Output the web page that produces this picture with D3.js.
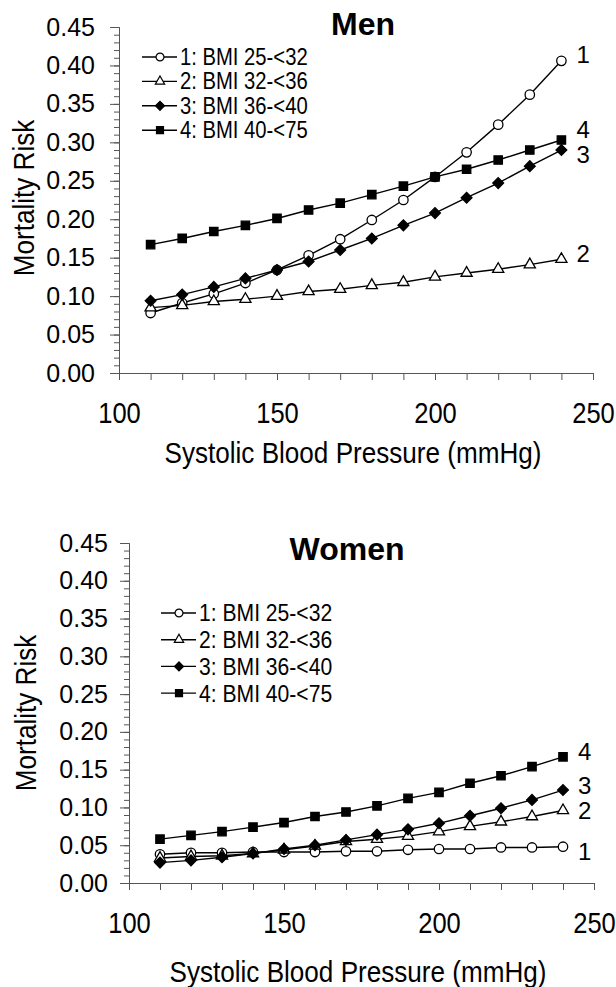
<!DOCTYPE html>
<html>
<head>
<meta charset="utf-8">
<script src="https://cdn.jsdelivr.net/npm/d3@7"></script>
<style>
  body { margin: 0; background: #fff; }
  svg text { font-family: "Liberation Sans", Arial, Helvetica, sans-serif; fill: #000; }
</style>
</head>
<body>
<div id="chart"></div>
<script>
// systolic blood pressure (x values)
let sbp = [110, 120, 130, 140, 150, 160, 170, 180, 190, 200, 210, 220, 230, 240];
let groupNames = ["1: BMI 25-<32", "2: BMI 32-<36", "3: BMI 36-<40", "4: BMI 40-<75"];
let groupLabels = ["1", "2", "3", "4"];

// men
let menBmi25 = [0.078, 0.091, 0.103, 0.117, 0.134, 0.153, 0.174, 0.199, 0.225, 0.255, 0.287, 0.323, 0.362, 0.406];
let menBmi32 = [0.085, 0.088, 0.093, 0.096, 0.100, 0.106, 0.109, 0.114, 0.118, 0.125, 0.130, 0.135, 0.141, 0.148];
let menBmi36 = [0.094, 0.102, 0.112, 0.123, 0.134, 0.145, 0.160, 0.175, 0.192, 0.208, 0.228, 0.247, 0.269, 0.290];
let menBmi40 = [0.167, 0.175, 0.184, 0.192, 0.201, 0.212, 0.221, 0.232, 0.243, 0.255, 0.265, 0.277, 0.290, 0.303];

// women
let womenBmi25 = [0.038, 0.040, 0.040, 0.041, 0.041, 0.041, 0.042, 0.042, 0.044, 0.045, 0.045, 0.047, 0.047, 0.048];
let womenBmi32 = [0.033, 0.035, 0.036, 0.039, 0.044, 0.049, 0.055, 0.058, 0.062, 0.068, 0.075, 0.081, 0.088, 0.096];
let womenBmi36 = [0.027, 0.030, 0.034, 0.039, 0.045, 0.050, 0.057, 0.064, 0.071, 0.079, 0.089, 0.099, 0.110, 0.123];
let womenBmi40 = [0.058, 0.063, 0.068, 0.074, 0.080, 0.088, 0.094, 0.102, 0.112, 0.120, 0.132, 0.142, 0.154, 0.167];

let riskTicks = [0, 0.05, 0.10, 0.15, 0.20, 0.25, 0.30, 0.35, 0.40, 0.45];
let sbpTicks = [100, 150, 200, 250];

let width = 616;
let height = 987;

let svg = d3.select("#chart").append("svg")
  .attr("width", width)
  .attr("height", height);

// marker shapes, one per group
let markers = [
  { type: d3.symbolCircle, size: 70, fill: "#fff", rot: 0 },
  { type: d3.symbolTriangle, size: 54, fill: "#fff", rot: 0 },
  { type: d3.symbolSquare, size: 58, fill: "#000", rot: 45 },
  { type: d3.symbolSquare, size: 70, fill: "#000", rot: 0 }
];

function drawPanel(p) {
  let x = d3.scaleLinear().domain([100, 250]).range([p.left, p.right]);
  let y = d3.scaleLinear().domain([0, 0.45]).range([p.bottom, p.top]);
  let g = svg.append("g");

  // y axis: minor ticks, then major ticks with labels
  g.append("g")
    .attr("transform", "translate(" + p.left + ",0)")
    .call(d3.axisLeft(y).tickValues(d3.range(0, 0.4501, 0.01)).tickSize(5).tickFormat(""))
    .call(a => a.selectAll("line, path").attr("stroke", "#555"));

  g.append("g")
    .attr("transform", "translate(" + p.left + ",0)")
    .call(d3.axisLeft(y).tickValues(riskTicks).tickSize(9).tickSizeOuter(0).tickPadding(p.yPad).tickFormat(d3.format(".2f")))
    .call(a => a.selectAll("line, path").attr("stroke", "#555"))
    .call(a => a.selectAll("text").style("font-size", "25px").attr("fill", "#000"));

  // x axis
  g.append("g")
    .attr("transform", "translate(0," + p.bottom + ")")
    .call(d3.axisBottom(x).tickValues(d3.range(100, 251, 10)).tickSize(7).tickSizeOuter(0).tickFormat(""))
    .call(a => a.selectAll("line, path").attr("stroke", "#555"));

  g.append("g")
    .attr("transform", "translate(0," + p.bottom + ")")
    .call(d3.axisBottom(x).tickValues(sbpTicks).tickSize(0).tickPadding(29).tickFormat(d3.format("d")))
    .call(a => a.select(".domain").remove())
    .call(a => a.selectAll("text").style("font-size", "29px").attr("fill", "#000")
      .attr("transform", "scale(0.88,1)"));

  // axis titles
  g.append("text")
    .attr("transform", "translate(" + p.xTitleX + "," + p.xTitleY + ") scale(0.9,1)")
    .attr("text-anchor", "middle")
    .attr("dy", "0.35em")
    .style("font-size", "29px")
    .text("Systolic Blood Pressure (mmHg)");

  g.append("text")
    .attr("transform", "translate(" + p.yTitleX + "," + p.yTitleY + ") rotate(-90) scale(0.9,1)")
    .attr("text-anchor", "middle")
    .attr("dy", "0.35em")
    .style("font-size", "29px")
    .text("Mortality Risk");

  // title
  g.append("text")
    .attr("x", p.titleX)
    .attr("y", p.titleY)
    .attr("text-anchor", "middle")
    .attr("dy", "0.35em")
    .style("font-size", "32px")
    .style("font-weight", "bold")
    .text(p.title);

  let line = d3.line()
    .x((d, i) => x(sbp[i]))
    .y(d => y(d));

  p.series.forEach(function(values, k) {
    g.append("path")
      .datum(values)
      .attr("d", line)
      .attr("fill", "none")
      .attr("stroke", "#000")
      .attr("stroke-width", 1.4);

    g.selectAll(".m" + k)
      .data(values)
      .enter().append("path")
      .attr("class", "m" + k)
      .attr("transform", (d, i) => "translate(" + x(sbp[i]) + "," + y(d) + ") rotate(" + markers[k].rot + ")")
      .attr("d", d3.symbol().type(markers[k].type).size(markers[k].size))
      .attr("fill", markers[k].fill)
      .attr("stroke", "#000")
      .attr("stroke-width", 1.3);

    // end label
    g.append("text")
      .attr("x", x(sbp[sbp.length - 1]) + 15)
      .attr("y", y(values[values.length - 1]) + p.labelDy[k])
      .attr("dy", "0.35em")
      .style("font-size", "24px")
      .text(groupLabels[k]);
  });

  // legend
  groupNames.forEach(function(name, k) {
    let ly = p.legendY + k * p.legendStep;
    g.append("line")
      .attr("x1", p.legendX).attr("x2", p.legendX + 35)
      .attr("y1", ly).attr("y2", ly)
      .attr("stroke", "#000")
      .attr("stroke-width", 1.4);
    g.append("path")
      .attr("transform", "translate(" + (p.legendX + 18) + "," + ly + ") rotate(" + markers[k].rot + ")")
      .attr("d", d3.symbol().type(markers[k].type).size(markers[k].size * 0.7))
      .attr("fill", markers[k].fill)
      .attr("stroke", "#000")
      .attr("stroke-width", 1.2);
    g.append("text")
      .attr("transform", "translate(" + (p.legendX + 38) + "," + ly + ") scale(0.88,1)")
      .attr("dy", "0.35em")
      .style("font-size", p.legendFont + "px")
      .text(name);
  });
}

drawPanel({
  title: "Men", titleX: 363, titleY: 24,
  left: 119, right: 593, top: 27, bottom: 373, yPad: 15,
  xTitleX: 353, xTitleY: 453, yTitleX: 24, yTitleY: 198,
  legendX: 142, legendY: 57, legendStep: 24.4, legendFont: 23,
  labelDy: [-6, -6, 5, -10],
  series: [menBmi25, menBmi32, menBmi36, menBmi40]
});

drawPanel({
  title: "Women", titleX: 347, titleY: 549,
  left: 129, right: 594, top: 543, bottom: 883, yPad: 12,
  xTitleX: 358, xTitleY: 972, yTitleX: 26, yTitleY: 713,
  legendX: 161, legendY: 613, legendStep: 26.7, legendFont: 24,
  labelDy: [5, 0, -4, -5],
  series: [womenBmi25, womenBmi32, womenBmi36, womenBmi40]
});
</script>
</body>
</html>
